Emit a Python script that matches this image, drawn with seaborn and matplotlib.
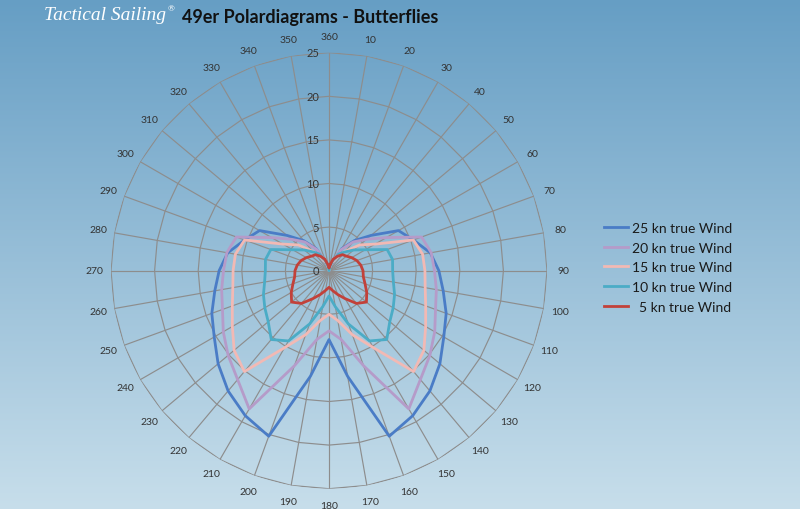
import numpy as np
import pandas as pd
import matplotlib
matplotlib.use("Agg")
import matplotlib.pyplot as plt
import seaborn as sns
from matplotlib.lines import Line2D

# ---------------- data ----------------
angles_deg = list(range(10, 361, 10))
angle_labels = [str(a) for a in angles_deg]
radial_ticks = [0, 5, 10, 15, 20, 25]

wind_25 = [0.3, 0.8, 2.9, 4.5, 6.3, 9.2, 10.3, 11.8, 12.6, 13.3, 14.3, 15.2, 16.6, 18.0, 19.2, 20.2, 12.3, 7.9,
           12.3, 20.2, 19.2, 18.0, 16.6, 15.2, 14.3, 13.3, 12.6, 11.8, 10.3, 9.2, 6.3, 4.5, 2.9, 0.8, 0.3, 0.0]
wind_20 = [0.4, 1.2, 2.8, 4.3, 5.6, 7.6, 11.3, 11.9, 12.1, 12.5, 13.0, 14.0, 15.1, 16.3, 18.3, 11.6, 8.0, 6.9,
           8.0, 11.6, 18.3, 16.3, 15.1, 14.0, 13.0, 12.5, 12.1, 11.9, 11.3, 7.6, 5.6, 4.3, 2.8, 1.2, 0.4, 0.0]
wind_15 = [0.3, 0.9, 1.8, 2.9, 4.6, 6.1, 10.3, 10.9, 11.0, 11.2, 11.8, 12.8, 14.2, 15.1, 10.2, 7.8, 5.8, 5.0,
           5.8, 7.8, 10.2, 15.1, 14.2, 12.8, 11.8, 11.2, 11.0, 10.9, 10.3, 6.1, 4.6, 2.9, 1.8, 0.9, 0.3, 0.0]
wind_10 = [0.4, 1.2, 2.2, 2.8, 3.7, 4.8, 7.1, 7.4, 7.3, 7.5, 8.0, 8.5, 9.1, 10.3, 9.3, 6.5, 4.2, 2.9,
           4.2, 6.5, 9.3, 10.3, 9.1, 8.5, 8.0, 7.5, 7.3, 7.4, 7.1, 4.8, 3.7, 2.8, 2.2, 1.2, 0.4, 0.0]
wind_5 = [0.7, 1.4, 1.9, 2.4, 2.6, 3.0, 3.4, 3.7, 3.9, 4.0, 4.4, 5.0, 5.6, 4.9, 3.7, 2.9, 2.3, 1.9,
          2.3, 2.9, 3.7, 4.9, 5.6, 5.0, 4.4, 4.0, 3.9, 3.7, 3.4, 3.0, 2.6, 2.4, 1.9, 1.4, 0.7, 0.3]

series_names = ["25 kn true Wind", "20 kn true Wind", "15 kn true Wind",
                "10 kn true Wind", "  5 kn true Wind"]
series_values = [wind_25, wind_20, wind_15, wind_10, wind_5]
series_colors = ["#4a7cc6", "#b59bc9", "#f2b9b4", "#4bacc6", "#c2413a"]

title = "49er Polardiagrams - Butterflies"
logo = "Tactical Sailing"

# ---------------- long table ----------------
rows = []
for name, vals in zip(series_names, series_values):
    closed_a = angles_deg + [angles_deg[0]]
    closed_v = vals + [vals[0]]
    for i, (a, v) in enumerate(zip(closed_a, closed_v)):
        rows.append({"wind": name, "theta": np.deg2rad(a), "r": v, "order": i})
df = pd.DataFrame(rows)

# ---------------- figure ----------------
plt.rcParams["font.family"] = ["Lato", "DejaVu Sans"]
W, H = 800, 510
fig = plt.figure(figsize=(W / 100, H / 100), dpi=100)

# background gradient
bg = fig.add_axes([0, 0, 1, 1], zorder=0)
top = np.array([0.40, 0.62, 0.77])
bot = np.array([0.78, 0.87, 0.92])
t = np.linspace(0, 1, 256)[:, None, None]
grad = top * (1 - t) + bot * t
bg.imshow(grad, aspect="auto", extent=[0, 1, 0, 1])
bg.set_axis_off()

cx, cy, R = 329, 271.7, 218
ax = fig.add_axes([(cx - R) / W, (H - cy - R) / H, 2 * R / W, 2 * R / H],
                  projection="polar", zorder=1)
ax.patch.set_alpha(0)
ax.set_theta_zero_location("N")
ax.set_theta_direction(-1)
ax.grid(False)
ax.spines["polar"].set_visible(False)

grid_c = "#8d8d8d"
th_all = np.deg2rad(angles_deg + [angles_deg[0]])
for a in angles_deg:
    ax.plot([np.deg2rad(a)] * 2, [0, 25], color=grid_c, lw=0.85, zorder=1)
for rr in radial_ticks[1:]:
    ax.plot(th_all, [rr] * len(th_all), color=grid_c, lw=0.85, zorder=1)

sns.lineplot(data=df, x="theta", y="r", hue="wind", hue_order=series_names,
             palette=series_colors, sort=False, estimator=None,
             linewidth=2.0, legend=False, ax=ax, zorder=3)
for ln in ax.lines:
    ln.set_solid_joinstyle("round")

ax.set_ylim(0, 25)
ax.set_xticks([])
ax.set_yticks([])
ax.set_xlabel("")
ax.set_ylabel("")

for a, lab in zip(angles_deg, angle_labels):
    ax.text(np.deg2rad(a), 26.9, lab, ha="center", va="center",
            fontsize=7.5, color="#333333")
for rr in radial_ticks:
    ax.annotate(str(rr), xy=(0, rr), xytext=(-10, 0), textcoords="offset pixels",
                ha="right", va="center", fontsize=8, color="#333333")

handles = [Line2D([0], [0], color=c, lw=2.0) for c in series_colors]
fig.legend(handles, series_names, loc="upper left",
           bbox_to_anchor=(604 / W, 1 - 223 / H), frameon=False,
           fontsize=10, handlelength=1.7, handletextpad=0.3,
           labelspacing=0.55, borderpad=0, borderaxespad=0,
           labelcolor="#1a1a1a")

fig.text(182 / W, 1 - 17 / H, title, ha="left", va="center",
         fontsize=13, fontweight="bold", color="#111111")
fig.text(44 / W, 1 - 16 / H, logo, ha="left", va="center",
         fontsize=14, style="italic", color="white",
         family=["Liberation Serif", "DejaVu Serif"])
fig.text(168 / W, 1 - 9 / H, "\u00ae", ha="left", va="center",
         fontsize=6, color="white")

fig.savefig("out.png", dpi=100)
